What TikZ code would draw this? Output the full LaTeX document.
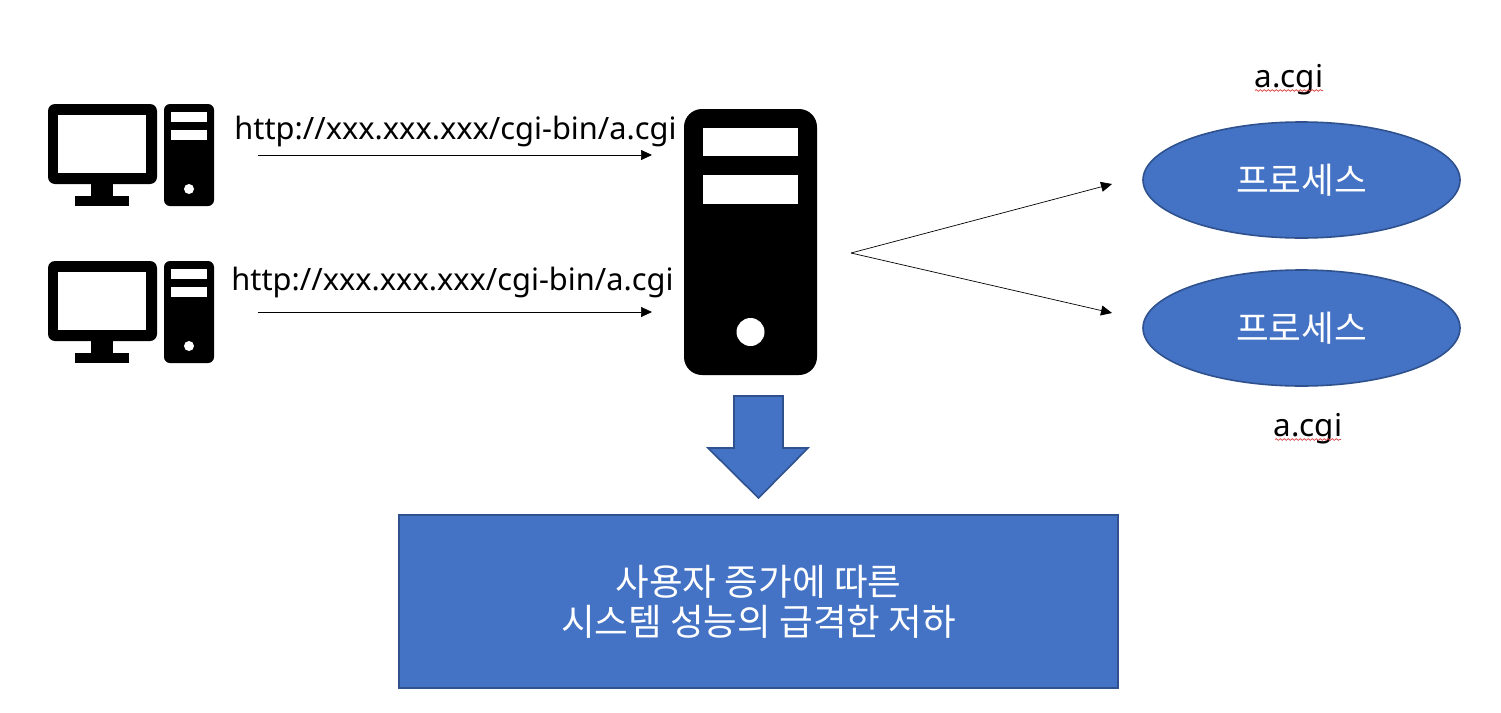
\documentclass[tikz,border=0pt]{standalone}
\usepackage{fontspec}
\setmainfont{Noto Sans}
\newfontfamily\kr{Noto Sans CJK KR}
\usetikzlibrary{arrows.meta,decorations.pathmorphing,shapes.geometric}
\definecolor{fillblue}{HTML}{4472C4}
\definecolor{edgeblue}{HTML}{2F528F}
\definecolor{wavy}{HTML}{E04848}
\tikzset{
  x=1pt,y=-1pt,
  conn/.style={draw=black,line width=0.7pt,-{Triangle[length=11pt,width=10pt]}},
  urltext/.style={inner sep=0pt,font=\fontsize{30.8}{36}\selectfont,text=black},
  cgitext/.style={inner sep=0pt,font=\fontsize{31.4}{36}\selectfont,text=black},
  proc/.style={ellipse,draw=edgeblue,fill=fillblue,line width=1.6pt,minimum width=317pt,minimum height=116pt,inner sep=0pt,text=white,font=\kr\fontsize{35.6}{40}\selectfont},
  squig/.style={draw=wavy,line width=0.7pt,decorate,decoration={snake,amplitude=0.9pt,segment length=4pt}},
  blk/.style={fill=black,draw=none},
  wht/.style={fill=white,draw=none}
}
\newcommand{\pcicon}[2]{%
  \begin{scope}[shift={(#1,#2)}]
    \fill[blk,rounded corners=7pt] (48,104) rectangle (157,184);
    \fill[wht] (58,115) rectangle (146,173);
    \fill[blk] (91,184) rectangle (113,196);
    \fill[blk] (75,196) rectangle (129,206);
    \fill[blk,rounded corners=6pt] (164,104) rectangle (214,206);
    \fill[wht] (171,112) rectangle (207,122);
    \fill[wht] (171,130) rectangle (207,140);
    \fill[wht] (189,189) circle (5);
  \end{scope}}
\begin{document}
\begin{tikzpicture}
\useasboundingbox (0,0) rectangle (1501,712);
\fill[white] (0,0) rectangle (1501,712);
\pcicon{0}{0}
\pcicon{0}{157}
% server
\fill[blk,rounded corners=18pt] (684,109) rectangle (817,375);
\fill[wht] (703,128) rectangle (798,156);
\fill[wht] (703,175) rectangle (798,204);
\fill[wht] (750.5,332) circle (14);
% labels
\node[urltext] (u1) at (455.5,131) {http://xxx.xxx.xxx/cgi-bin/a.cgi};
\node[urltext] (u2) at (452.5,282) {http://xxx.xxx.xxx/cgi-bin/a.cgi};
\coordinate (s1) at (258,155);
\coordinate (e1) at (652,155);
\coordinate (s2) at (258,312);
\coordinate (e2) at (652,312);
\draw[conn] (s1) -- (e1);
\draw[conn] (s2) -- (e2);
\coordinate (fan) at (851,253);
\coordinate (t1) at (1112,184);
\coordinate (t2) at (1112,313);
\draw[conn] (fan) -- (t1);
\draw[conn] (fan) -- (t2);
\node[proc] (p1) at (1301.5,180) {프로세스};
\node[proc] (p2) at (1301.5,328) {프로세스};
\node[cgitext] (c1) at (1289,79.5) {a.cgi};
\node[cgitext] (c2) at (1308,428.5) {a.cgi};
\draw[squig] (1255,90.5) -- (1323,90.5);
\draw[squig] (1275,439.5) -- (1341,439.5);
% big arrow
\draw[draw=edgeblue,fill=fillblue,line width=1.6pt] (734,396) -- (783,396) -- (783,448) -- (808,448) -- (758.5,498) -- (708,448) -- (734,448) -- cycle;
% box
\node[draw=edgeblue,fill=fillblue,line width=1.6pt,minimum width=719pt,minimum height=173pt,inner sep=0pt,text=white,align=center,font=\kr\fontsize{36.6}{40}\selectfont] (box) at (758.5,601.5) {사용자 증가에 따른\\시스템 성능의 급격한 저하};
\end{tikzpicture}
\end{document}
